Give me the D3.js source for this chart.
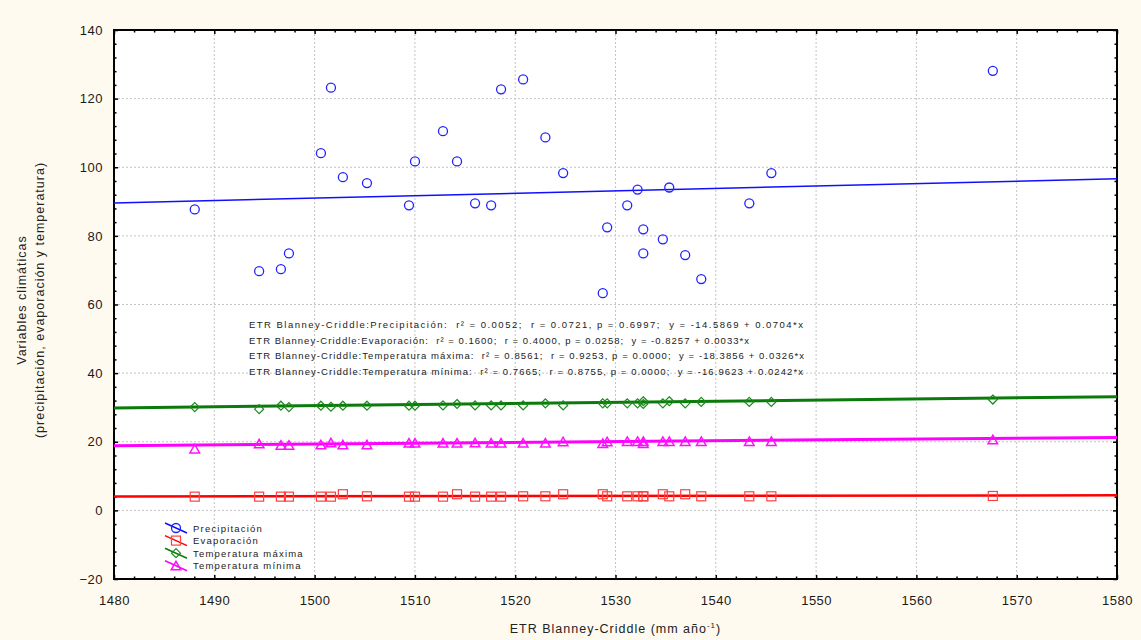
<!DOCTYPE html>
<html>
<head>
<meta charset="utf-8">
<script src="https://cdn.jsdelivr.net/npm/d3@7"></script>
<style>
  body { margin: 0; background: #fefaef; }
  svg { display: block; font-family: "Liberation Sans", Arial, sans-serif; }
</style>
</head>
<body>
<svg id="chart" width="1141" height="640"></svg>
<script>
'use strict';

// ETR Blanney-Criddle (mm/año), shared x for every series
var etr = [1488.05, 1494.47, 1496.64, 1497.44, 1500.63, 1501.63, 1502.82, 1505.22, 1509.41, 1510.01,
           1512.80, 1514.20, 1516.00, 1517.60, 1518.59, 1520.79, 1523.01, 1524.78, 1528.73, 1529.17,
           1531.17, 1532.20, 1532.77, 1532.77, 1534.72, 1535.36, 1536.95, 1538.55, 1543.34, 1545.54,
           1567.62];

var precipitacion = [87.7, 69.7, 70.3, 74.9, 104.1, 123.2, 97.1, 95.4, 88.9, 101.7,
                     110.5, 101.7, 89.5, 88.9, 122.7, 125.6, 108.7, 98.3, 63.3, 82.5,
                     88.9, 93.5, 81.9, 74.9, 79.0, 94.1, 74.4, 67.4, 89.5, 98.3,
                     128.1];

var evaporacion = [4.0, 4.0, 4.0, 4.0, 4.0, 4.0, 4.7, 4.1, 4.0, 4.0,
                   4.0, 4.7, 4.0, 4.0, 4.0, 4.1, 4.1, 4.7, 4.7, 4.1,
                   4.1, 4.1, 4.1, 4.1, 4.7, 4.1, 4.7, 4.1, 4.1, 4.1,
                   4.2];

var tempMax = [30.1, 29.5, 30.5, 30.1, 30.5, 30.2, 30.5, 30.5, 30.5, 30.5,
               30.6, 31.0, 30.6, 30.6, 30.6, 30.6, 31.2, 30.6, 31.2, 31.2,
               31.2, 31.2, 31.8, 31.0, 31.2, 31.8, 31.2, 31.6, 31.6, 31.6,
               32.3];

var tempMin = [17.9, 19.4, 19.0, 19.0, 19.1, 19.7, 19.1, 19.1, 19.6, 19.6,
               19.6, 19.6, 19.7, 19.6, 19.6, 19.6, 19.6, 20.0, 19.5, 20.0,
               20.1, 20.1, 19.5, 20.1, 20.1, 20.1, 20.1, 20.1, 20.1, 20.1,
               20.6];

// regression coefficients [intercept, slope]
var fitPrec = [-14.5869, 0.0704];
var fitEvap = [-0.8257, 0.0033];
var fitTmax = [-18.3856, 0.0326];
var fitTmin = [-16.9623, 0.0242];

var seriesNames = ['Precipitación', 'Evaporación', 'Temperatura máxima', 'Temperatura mínima'];

var statLines = [
    'ETR Blanney-Criddle:Precipitación:  r² = 0.0052;  r = 0.0721, p = 0.6997;  y = -14.5869 + 0.0704*x',
    'ETR Blanney-Criddle:Evaporación:  r² = 0.1600;  r = 0.4000, p = 0.0258;  y = -0.8257 + 0.0033*x',
    'ETR Blanney-Criddle:Temperatura máxima:  r² = 0.8561;  r = 0.9253, p = 0.0000;  y = -18.3856 + 0.0326*x',
    'ETR Blanney-Criddle:Temperatura mínima:  r² = 0.7665;  r = 0.8755, p = 0.0000;  y = -16.9623 + 0.0242*x'
];
var statWidths = [554, 500, 555, 554];

var xTicks = [1480, 1490, 1500, 1510, 1520, 1530, 1540, 1550, 1560, 1570, 1580];
var yTicks = [-20, 0, 20, 40, 60, 80, 100, 120, 140];

var padLeft = 114, padRight = 1117, padTop = 30, padBottom = 579;

var svg = d3.select('#chart');

var x = d3.scaleLinear().domain([1480, 1580]).range([padLeft, padRight]);
var y = d3.scaleLinear().domain([-20, 140]).range([padBottom, padTop]);

svg.append('rect')
    .attr('x', padLeft).attr('y', padTop)
    .attr('width', padRight - padLeft).attr('height', padBottom - padTop)
    .style('fill', '#ffffff');

// grid
var grid = svg.append('g');
grid.selectAll('.gx')
    .data(xTicks.slice(1, -1))
    .enter().append('line')
    .attr('x1', function (d) {return x(d);})
    .attr('x2', function (d) {return x(d);})
    .attr('y1', padTop).attr('y2', padBottom);
grid.selectAll('.gy')
    .data(yTicks.slice(1, -1))
    .enter().append('line')
    .attr('x1', padLeft).attr('x2', padRight)
    .attr('y1', function (d) {return y(d);})
    .attr('y2', function (d) {return y(d);});
grid.selectAll('line')
    .style('stroke', '#c4c4c4')
    .style('stroke-width', 1)
    .style('stroke-dasharray', '2,2');

// axes, ticks inward on all four sides
var xMinor = d3.range(1480, 1581, 2).filter(function (d) {return d % 10 !== 0;});
var yMinor = d3.range(-20, 141, 4).filter(function (d) {return d % 20 !== 0;});

function styleAxis(g) {
    g.select('.domain').remove();
    g.selectAll('.tick line').style('stroke', '#000').style('stroke-width', 1.5);
    g.selectAll('.tick text')
        .style('font-size', '13px')
        .style('letter-spacing', '0.5px')
        .style('fill', '#1a1a1a')
        .style('font-family', '"Liberation Sans", Arial, sans-serif');
}

svg.append('g').attr('transform', 'translate(0,' + padBottom + ')')
    .call(d3.axisBottom(x).tickValues(xTicks).tickSize(-4).tickPadding(17).tickFormat(d3.format('d')))
    .call(styleAxis);
svg.append('g').attr('transform', 'translate(0,' + padBottom + ')')
    .call(d3.axisBottom(x).tickValues(xMinor).tickSize(-2.5).tickFormat(''))
    .call(styleAxis);
svg.append('g').attr('transform', 'translate(0,' + padTop + ')')
    .call(d3.axisTop(x).tickValues(xTicks).tickSize(-4).tickFormat(''))
    .call(styleAxis);
svg.append('g').attr('transform', 'translate(0,' + padTop + ')')
    .call(d3.axisTop(x).tickValues(xMinor).tickSize(-2.5).tickFormat(''))
    .call(styleAxis);

svg.append('g').attr('transform', 'translate(' + padLeft + ',0)')
    .call(d3.axisLeft(y).tickValues(yTicks).tickSize(-4).tickPadding(11))
    .call(styleAxis);
svg.append('g').attr('transform', 'translate(' + padLeft + ',0)')
    .call(d3.axisLeft(y).tickValues(yMinor).tickSize(-2.5).tickFormat(''))
    .call(styleAxis);
svg.append('g').attr('transform', 'translate(' + padRight + ',0)')
    .call(d3.axisRight(y).tickValues(yTicks).tickSize(-4).tickFormat(''))
    .call(styleAxis);
svg.append('g').attr('transform', 'translate(' + padRight + ',0)')
    .call(d3.axisRight(y).tickValues(yMinor).tickSize(-2.5).tickFormat(''))
    .call(styleAxis);

svg.append('rect')
    .attr('x', padLeft).attr('y', padTop)
    .attr('width', padRight - padLeft).attr('height', padBottom - padTop)
    .style('fill', 'none')
    .style('stroke', '#000')
    .style('stroke-width', 2);

// regression lines
var fits = [
    {fit: fitPrec, color: '#1010ff', width: 1.5},
    {fit: fitEvap, color: '#ff0000', width: 2.5},
    {fit: fitTmax, color: '#0a7a0a', width: 3},
    {fit: fitTmin, color: '#ff00ff', width: 3}
];
var plot = svg.append('g');
fits.forEach(function (f) {
    plot.append('line')
        .attr('x1', x(1480)).attr('x2', x(1580))
        .attr('y1', y(f.fit[0] + f.fit[1] * 1480))
        .attr('y2', y(f.fit[0] + f.fit[1] * 1580))
        .style('stroke', f.color)
        .style('stroke-width', f.width);
});

// marker shapes
function circle(g, color) {
    g.append('circle').attr('r', 4.5)
        .style('fill', 'none').style('stroke', color).style('stroke-width', 1.3);
}
function square(g, color) {
    g.append('rect').attr('x', -4.5).attr('y', -4.5).attr('width', 9).attr('height', 9)
        .style('fill', 'none').style('stroke', color).style('stroke-width', 1.2);
}
function diamond(g, color) {
    g.append('path').attr('d', 'M0,-4.5L4.5,0L0,4.5L-4.5,0Z')
        .style('fill', 'none').style('stroke', color).style('stroke-width', 1.2);
}
function triangle(g, color) {
    g.append('path').attr('d', 'M0,-4.5L4.8,4L-4.8,4Z')
        .style('fill', 'none').style('stroke', color).style('stroke-width', 1.5);
}

var series = [
    {values: precipitacion, shape: circle, color: '#2222ff'},
    {values: evaporacion, shape: square, color: '#ff4040'},
    {values: tempMax, shape: diamond, color: '#1a8a1a'},
    {values: tempMin, shape: triangle, color: '#ff10ff'}
];

series.forEach(function (s) {
    plot.append('g').selectAll('g')
        .data(s.values)
        .enter().append('g')
        .attr('transform', function (d, i) {return 'translate(' + x(etr[i]) + ',' + y(d) + ')';})
        .each(function () {s.shape(d3.select(this), s.color);});
});

// stats text
svg.append('g').selectAll('text')
    .data(statLines)
    .enter().append('text')
    .attr('x', 249)
    .attr('y', function (d, i) {return 328 + i * 15.6;})
    .attr('textLength', function (d, i) {return statWidths[i];})
    .attr('lengthAdjust', 'spacing')
    .attr('xml:space', 'preserve')
    .style('white-space', 'pre')
    .style('font-size', '9.5px')
    .style('fill', '#222')
    .text(function (d) {return d;});

// legend
var lineColors = ['#1010ff', '#ff0000', '#0a7a0a', '#ff00ff'];
var legend = svg.append('g').selectAll('g')
    .data(seriesNames)
    .enter().append('g')
    .attr('transform', function (d, i) {return 'translate(0,' + (528 + i * 12.6) + ')';});
legend.append('line')
    .attr('x1', 165).attr('y1', -5).attr('x2', 187).attr('y2', 5)
    .style('stroke', function (d, i) {return lineColors[i];})
    .style('stroke-width', 1.5);
legend.each(function (d, i) {
    var g = d3.select(this).append('g').attr('transform', 'translate(176,0)');
    series[i].shape(g, series[i].color);
});
legend.append('text')
    .attr('x', 193).attr('y', 3.5)
    .style('font-size', '9.5px')
    .style('letter-spacing', '1.2px')
    .style('fill', '#222')
    .text(function (d) {return d;});

// axis titles
var xt = svg.append('text')
    .attr('x', (padLeft + padRight) / 2)
    .attr('y', 633)
    .attr('text-anchor', 'middle')
    .style('font-size', '12.5px')
    .style('letter-spacing', '1px')
    .style('fill', '#222');
xt.append('tspan').text('ETR Blanney-Criddle (mm año');
xt.append('tspan').attr('dy', -5).style('font-size', '8px').text('-1');
xt.append('tspan').attr('dy', 5).text(')');

var yt = svg.append('text')
    .attr('transform', 'translate(0,300) rotate(-90)')
    .attr('text-anchor', 'middle')
    .style('font-size', '12.5px')
    .style('letter-spacing', '1px')
    .style('fill', '#222');
yt.append('tspan').attr('x', 0).attr('y', 26).text('Variables climáticas');
yt.append('tspan').attr('x', 0).attr('y', 44).text('(precipitación, evaporación y temperatura)');
</script>
</body>
</html>
